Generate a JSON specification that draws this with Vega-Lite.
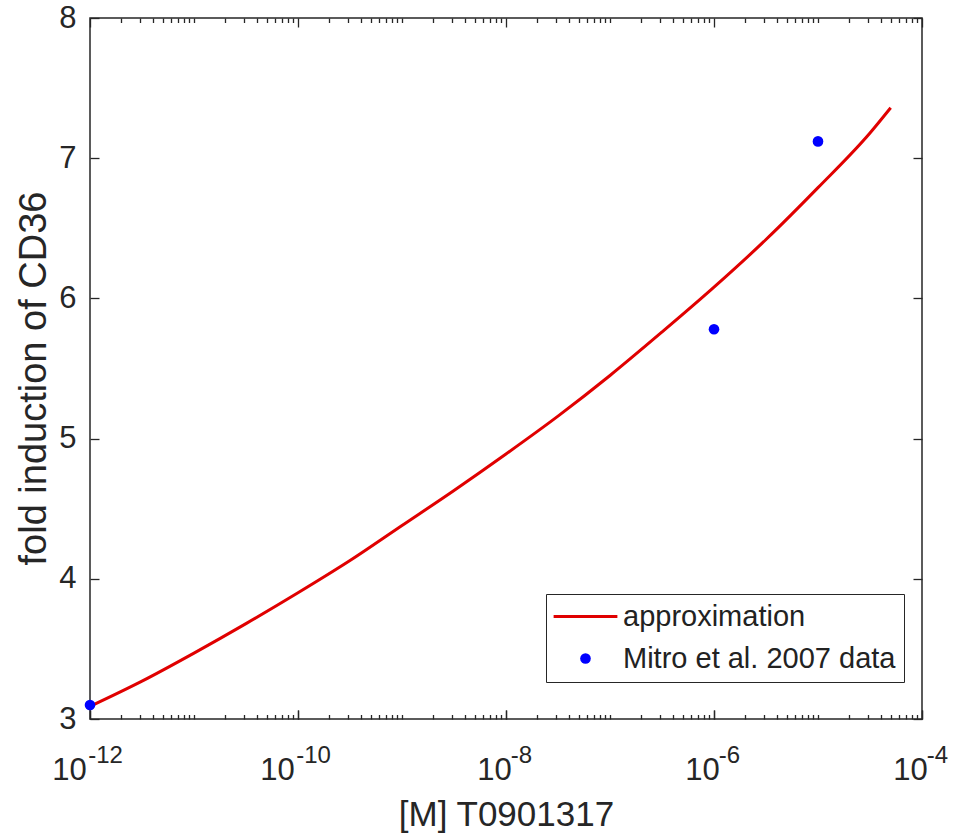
{
  "$schema": "https://vega.github.io/schema/vega-lite/v6.json",
  "width": 832,
  "height": 701,
  "autosize": {"type": "none"},
  "padding": {"left": 90, "top": 18, "right": 34, "bottom": 119},
  "background": "white",
  "config": {
    "view": {"stroke": "#262626", "strokeWidth": 1.5},
    "font": "Liberation Sans",
    "axis": {
      "labelFont": "Liberation Sans",
      "titleFont": "Liberation Sans",
      "labelColor": "#262626",
      "titleColor": "#262626",
      "tickColor": "#262626",
      "tickWidth": 1.3,
      "domain": false,
      "grid": false,
      "titleFontWeight": "normal",
      "labelFlush": false,
      "labelOverlap": false
    }
  },
  "datasets": {
    "curve": [
      {"conc": 1e-12, "fold": 3.09, "series": "approximation"},
      {"conc": 3.162e-12, "fold": 3.27, "series": "approximation"},
      {"conc": 1e-11, "fold": 3.47, "series": "approximation"},
      {"conc": 3.162e-11, "fold": 3.68, "series": "approximation"},
      {"conc": 1e-10, "fold": 3.9, "series": "approximation"},
      {"conc": 3.162e-10, "fold": 4.13, "series": "approximation"},
      {"conc": 1e-9, "fold": 4.38, "series": "approximation"},
      {"conc": 3.162e-9, "fold": 4.63, "series": "approximation"},
      {"conc": 1e-8, "fold": 4.89, "series": "approximation"},
      {"conc": 3.162e-8, "fold": 5.16, "series": "approximation"},
      {"conc": 1e-7, "fold": 5.45, "series": "approximation"},
      {"conc": 3.162e-7, "fold": 5.76, "series": "approximation"},
      {"conc": 1e-6, "fold": 6.08, "series": "approximation"},
      {"conc": 3.162e-6, "fold": 6.42, "series": "approximation"},
      {"conc": 1e-5, "fold": 6.79, "series": "approximation"},
      {"conc": 3.162e-5, "fold": 7.18, "series": "approximation"},
      {"conc": 5e-5, "fold": 7.36, "series": "approximation"}
    ],
    "obs": [
      {"conc": 1e-12, "fold": 3.1, "series": "Mitro et al. 2007 data"},
      {"conc": 1e-6, "fold": 5.78, "series": "Mitro et al. 2007 data"},
      {"conc": 1e-5, "fold": 7.12, "series": "Mitro et al. 2007 data"}
    ]
  },
  "layer": [
    {
      "data": {"name": "curve"},
      "mark": {"type": "line", "strokeWidth": 3, "interpolate": "monotone"},
      "encoding": {
        "x": {
          "field": "conc",
          "type": "quantitative",
          "scale": {"type": "log", "domain": [1e-12, 1e-4], "nice": false},
          "axis": {
            "orient": "bottom",
            "values": [1e-12, 1e-10, 1e-8, 1e-6, 1e-4],
            "labelExpr": "'10'",
            "labelFontSize": 31,
            "labelAlign": "center",
            "labelBaseline": "top",
            "labelOffset": {"condition": {"test": "datum.value < 1e-9", "value": -21}, "value": -12},
            "tickSize": -9,
            "labelPadding": 45,
            "title": "[M] T0901317",
            "titleFontSize": 35,
            "titleBaseline": "alphabetic",
            "titleY": 106
          }
        },
        "y": {
          "field": "fold",
          "type": "quantitative",
          "scale": {"domain": [3, 8], "nice": false, "zero": false},
          "axis": {
            "orient": "left",
            "values": [3, 4, 5, 6, 7, 8],
            "labelFontSize": 31,
            "tickSize": -9,
            "labelPadding": 23,
            "title": "fold induction of CD36",
            "titleFontSize": 38,
            "titleBaseline": "alphabetic",
            "titleAngle": 270,
            "titleX": -45,
            "titleY": 360
          }
        },
        "color": {
          "field": "series",
          "type": "nominal",
          "scale": {"domain": ["approximation", "Mitro et al. 2007 data"], "range": ["#e00000", "#0000ff"]},
          "legend": {
            "title": null,
            "orient": "none",
            "legendX": 456,
            "legendY": 576,
            "strokeColor": "#262626",
            "fillColor": "white",
            "padding": 8,
            "symbolSize": 113,
            "symbolOffset": 17,
            "labelOffset": 23,
            "labelLimit": 500,
            "labelFontSize": 29,
            "labelFont": "Liberation Sans",
            "labelColor": "#222222",
            "rowPadding": 12,
            "encode": {
              "symbols": {
                "update": {
                  "shape": {"signal": "datum.value === 'approximation' ? 'M-6,0H6' : 'circle'"},
                  "stroke": {"signal": "datum.value === 'approximation' ? '#e00000' : '#0000ff'"},
                  "strokeWidth": {"signal": "datum.value === 'approximation' ? 3 : 0"},
                  "fill": {"signal": "datum.value === 'approximation' ? 'transparent' : '#0000ff'"},
                  "opacity": {"value": 1},
                  "fillOpacity": {"value": 1},
                  "strokeOpacity": {"value": 1}
                }
              }
            }
          }
        }
      }
    },
    {
      "data": {"name": "obs"},
      "mark": {"type": "circle", "size": 113, "opacity": 1},
      "encoding": {
        "x": {
          "field": "conc",
          "type": "quantitative",
          "axis": {
            "orient": "bottom",
            "values": [1e-12, 2e-12, 3e-12, 4e-12, 5e-12, 6e-12, 7e-12, 8e-12, 9e-12, 1e-11, 2e-11, 3e-11, 4e-11, 5e-11, 6e-11, 7e-11, 8e-11, 9e-11, 1e-10, 2e-10, 3e-10, 4e-10, 5e-10, 6e-10, 7e-10, 8e-10, 9e-10, 1e-9, 2e-9, 3e-9, 4e-9, 5e-9, 6e-9, 7e-9, 8e-9, 9e-9, 1e-8, 2e-8, 3e-8, 4e-8, 5e-8, 6e-8, 7e-8, 8e-8, 9e-8, 1e-7, 2e-7, 3e-7, 4e-7, 5e-7, 6e-7, 7e-7, 8e-7, 9e-7, 1e-6, 2e-6, 3e-6, 4e-6, 5e-6, 6e-6, 7e-6, 8e-6, 9e-6, 1e-5, 2e-5, 3e-5, 4e-5, 5e-5, 6e-5, 7e-5, 8e-5, 9e-5, 1e-4],
            "labelExpr": "indexof([1e-12, 1e-10, 1e-8, 1e-6, 1e-4], datum.value) >= 0 ? '-' + round(-log(datum.value) / LN10) : ''",
            "labelFontSize": 24,
            "labelAlign": "center",
            "labelBaseline": "top",
            "labelOffset": 15,
            "tickSize": {"condition": {"test": "indexof([1e-12, 1e-10, 1e-8, 1e-6, 1e-4], datum.value) >= 0", "value": -9}, "value": -4.5},
            "labelPadding": 33,
            "title": null
          }
        },
        "y": {
          "field": "fold",
          "type": "quantitative",
          "axis": {
            "orient": "right",
            "values": [3, 4, 5, 6, 7, 8],
            "labels": false,
            "tickSize": -9,
            "title": null
          }
        },
        "color": {"field": "series", "type": "nominal"}
      }
    },
    {
      "data": {"name": "obs"},
      "mark": {"type": "circle", "size": 113, "opacity": 0},
      "encoding": {
        "x": {
          "field": "conc",
          "type": "quantitative",
          "axis": {
            "orient": "top",
            "values": [1e-12, 2e-12, 3e-12, 4e-12, 5e-12, 6e-12, 7e-12, 8e-12, 9e-12, 1e-11, 2e-11, 3e-11, 4e-11, 5e-11, 6e-11, 7e-11, 8e-11, 9e-11, 1e-10, 2e-10, 3e-10, 4e-10, 5e-10, 6e-10, 7e-10, 8e-10, 9e-10, 1e-9, 2e-9, 3e-9, 4e-9, 5e-9, 6e-9, 7e-9, 8e-9, 9e-9, 1e-8, 2e-8, 3e-8, 4e-8, 5e-8, 6e-8, 7e-8, 8e-8, 9e-8, 1e-7, 2e-7, 3e-7, 4e-7, 5e-7, 6e-7, 7e-7, 8e-7, 9e-7, 1e-6, 2e-6, 3e-6, 4e-6, 5e-6, 6e-6, 7e-6, 8e-6, 9e-6, 1e-5, 2e-5, 3e-5, 4e-5, 5e-5, 6e-5, 7e-5, 8e-5, 9e-5, 1e-4],
            "labels": false,
            "tickSize": {"condition": {"test": "indexof([1e-12, 1e-10, 1e-8, 1e-6, 1e-4], datum.value) >= 0", "value": -9}, "value": -4.5},
            "title": null
          }
        },
        "y": {"field": "fold", "type": "quantitative", "axis": null}
      }
    }
  ],
  "resolve": {"axis": {"x": "independent", "y": "independent"}}
}
